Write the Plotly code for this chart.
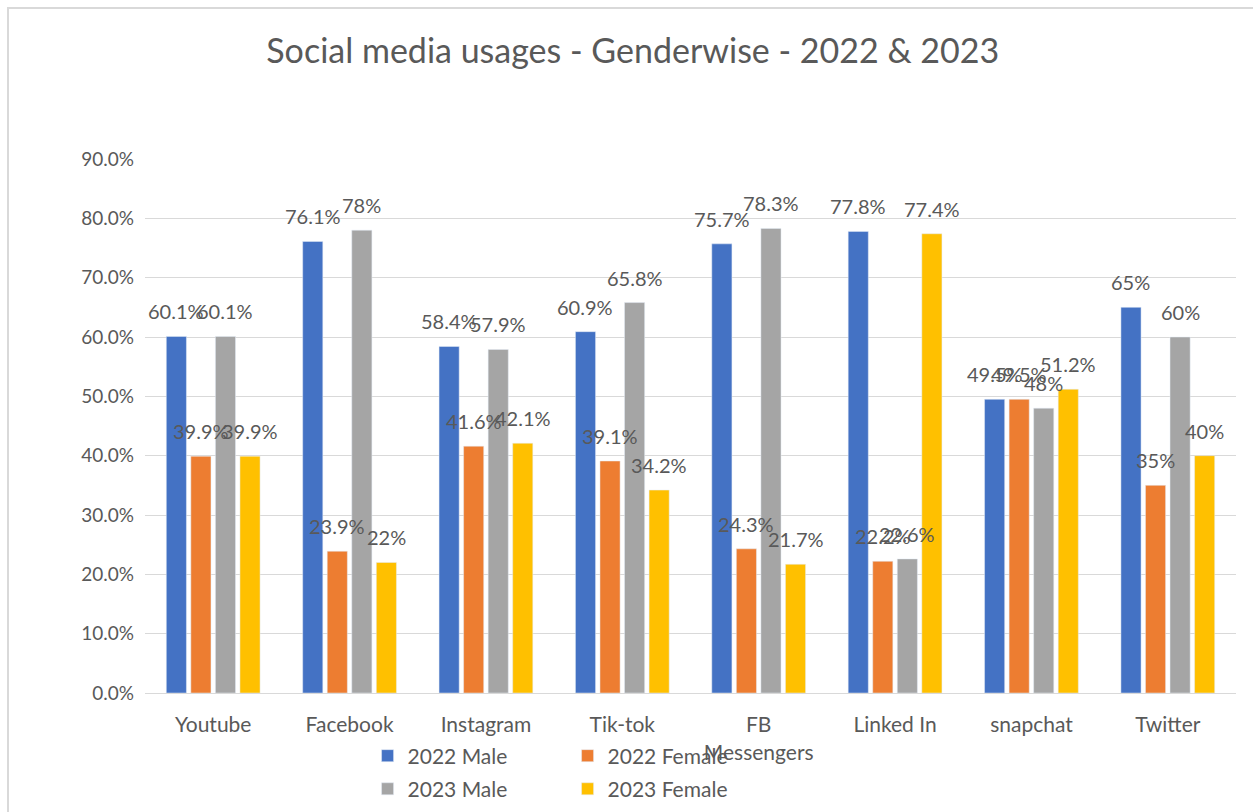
import plotly.graph_objects as go

categories = ["Youtube", "Facebook", "Instagram", "Tik-tok", "FB<br>Messengers", "Linked In", "snapchat", "Twitter"]
male_2022 = [60.1, 76.1, 58.4, 60.9, 75.7, 77.8, 49.5, 65]
female_2022 = [39.9, 23.9, 41.6, 39.1, 24.3, 22.2, 49.5, 35]
male_2023 = [60.1, 78, 57.9, 65.8, 78.3, 22.6, 48, 60]
female_2023 = [39.9, 22, 42.1, 34.2, 21.7, 77.4, 51.2, 40]
y_ticks = [0, 10, 20, 30, 40, 50, 60, 70, 80, 90]
y_tick_text = [f"{v:.1f}%" for v in y_ticks]

series = [
    ("2022 Male", male_2022, "#4472C4", "legend"),
    ("2022 Female", female_2022, "#ED7D31", "legend"),
    ("2023 Male", male_2023, "#A5A5A5", "legend2"),
    ("2023 Female", female_2023, "#FFC000", "legend2"),
]

FONT = "Lato"
TXT = "#595959"
W, H = 1253, 812
ML, MR, MT, MB = 145, 17, 159, 119
BARGAP = 0.28
GROUPGAP = 0.18

fig = go.Figure()
for name, vals, color, leg in series:
    fig.add_trace(go.Bar(
        x=categories, y=vals, name=name, marker_color=color, legend=leg,
    ))

# data labels, centred above each bar (annotations placed via the axes)
plot_w = W - ML - MR
cat_px = plot_w / len(categories)
slot = (1 - BARGAP) / len(series)
annotations = []
for i, (name, vals, color, leg) in enumerate(series):
    offset = (-(1 - BARGAP) / 2 + slot * (i + 0.5)) * cat_px
    for c, v in zip(categories, vals):
        annotations.append(dict(
            x=c, y=v, xref="x", yref="y", text=f"{v:g}%", showarrow=False,
            xshift=offset, yshift=11, yanchor="bottom", xanchor="center",
            font=dict(family=FONT, size=20, color=TXT),
        ))

fig.update_layout(
    width=W, height=H,
    margin=dict(l=ML, r=MR, t=MT, b=MB, autoexpand=False),
    paper_bgcolor="white", plot_bgcolor="white",
    barmode="group", bargap=BARGAP, bargroupgap=GROUPGAP,
    title=dict(text="Social media usages - Genderwise - 2022 & 2023", x=0.505, xanchor="center",
               y=0.937, yanchor="middle", font=dict(family=FONT, size=34, color=TXT)),
    font=dict(family=FONT, color=TXT),
    xaxis=dict(showline=True, linecolor="#D9D9D9", linewidth=1, ticks="",
               ticklabelstandoff=13, automargin=False,
               tickfont=dict(family=FONT, size=21, color=TXT)),
    yaxis=dict(range=[0, 90], tickvals=y_ticks, ticktext=y_tick_text,
               showgrid=True, gridcolor="#D9D9D9", gridwidth=1, zeroline=False,
               showline=False, ticks="", ticklabelstandoff=10, automargin=False,
               tickfont=dict(family=FONT, size=19, color=TXT)),
    legend=dict(orientation="h", x=0.204, xanchor="left", y=-0.118, yanchor="middle",
                entrywidth=155, entrywidthmode="pixels", itemwidth=30,
                font=dict(family=FONT, size=21, color=TXT), bgcolor="rgba(0,0,0,0)"),
    legend2=dict(orientation="h", x=0.204, xanchor="left", y=-0.180, yanchor="middle",
                 entrywidth=155, entrywidthmode="pixels", itemwidth=30,
                 font=dict(family=FONT, size=21, color=TXT), bgcolor="rgba(0,0,0,0)"),
    annotations=annotations,
    shapes=[dict(type="rect", xref="paper", yref="paper", x0=-137 / plot_w, x1=1.1,
                 y0=-1, y1=(H - MB - 8) / (H - MT - MB), line=dict(color="#D9D9D9", width=2),
                 fillcolor="rgba(0,0,0,0)", layer="below")],
)

fig.write_html("out.html")
